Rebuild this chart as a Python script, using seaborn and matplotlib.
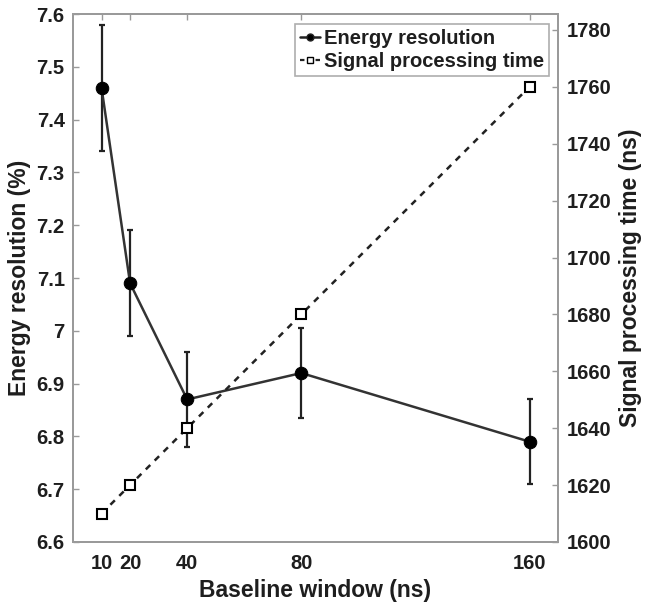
import matplotlib
matplotlib.use("Agg")
import matplotlib.pyplot as plt
from matplotlib.lines import Line2D
import seaborn as sns
import pandas as pd

# Baseline window lengths (ns)
window_ns = [10, 20, 40, 80, 160]
# Energy resolution (%) and its uncertainty
energy_res = [7.46, 7.09, 6.87, 6.92, 6.79]
energy_err = [0.12, 0.10, 0.09, 0.085, 0.08]
# Signal processing time (ns)
proc_time = [1610, 1620, 1640, 1680, 1760]

xticks = [10, 20, 40, 80, 160]
left_ticks = [6.6, 6.7, 6.8, 6.9, 7.0, 7.1, 7.2, 7.3, 7.4, 7.5, 7.6]
left_ticklabels = ["6.6", "6.7", "6.8", "6.9", "7", "7.1", "7.2", "7.3", "7.4", "7.5", "7.6"]
right_ticks = list(range(1600, 1781, 20))

df = pd.DataFrame({"window": window_ns, "res": energy_res, "err": energy_err, "time": proc_time})

sns.set_style("white")
plt.rcParams["font.family"] = ["Liberation Sans", "DejaVu Sans"]
plt.rcParams["font.weight"] = "bold"

FS = 14.5
TXT = "#1e1e1e"
SPINE = "#9a9a9a"

fig = plt.figure(figsize=(6.48, 6.12), dpi=100)
ax = fig.add_axes([0.1127, 0.1144, 0.7485, 0.8627])
ax2 = ax.twinx()

# Energy resolution with error bars
ax.errorbar(df["window"], df["res"], yerr=df["err"], fmt="none", ecolor="#222222",
            elinewidth=1.6, capsize=2.5, capthick=1.6, zorder=3)
sns.lineplot(data=df, x="window", y="res", ax=ax, color="#333333", linewidth=1.8,
             marker="o", markersize=9, markerfacecolor="black", markeredgecolor="black",
             zorder=4, legend=False)

# Signal processing time
sns.lineplot(data=df, x="window", y="time", ax=ax2, color="#222222", linewidth=1.8,
             linestyle=(0, (2.5, 2.5)), marker="s", markersize=7,
             markerfacecolor="white", markeredgecolor="black", markeredgewidth=1.5,
             legend=False)

ax.set_xlim(0, 170)
ax.set_ylim(6.6, 7.6)
ax2.set_ylim(1600, 1785.6)
ax.set_xticks(xticks)
ax.set_xticklabels([str(v) for v in xticks])
ax.set_yticks(left_ticks)
ax.set_yticklabels(left_ticklabels)
ax2.set_yticks(right_ticks)
ax2.set_yticklabels([str(v) for v in right_ticks])

ax.set_xlabel("Baseline window (ns)", fontsize=16.5, fontweight="bold", color=TXT, labelpad=4)
ax.set_ylabel("Energy resolution (%)", fontsize=16.5, fontweight="bold", color=TXT, labelpad=4)
ax2.set_ylabel("Signal processing time (ns)", fontsize=16.5, fontweight="bold", color=TXT, labelpad=6)

for a in (ax, ax2):
    for s in a.spines.values():
        s.set_color(SPINE)
        s.set_linewidth(1.3)
    a.tick_params(direction="in", length=4, width=1, color=SPINE, labelsize=FS,
                  labelcolor=TXT)
ax.tick_params(axis="x", top=True, pad=9)
ax.tick_params(axis="y", right=False, pad=6)
ax2.tick_params(axis="y", pad=6)

handles = [
    Line2D([0], [0], color="#222222", linewidth=1.8, marker="o", markersize=5,
           markerfacecolor="black"),
    Line2D([0], [0], color="#222222", linewidth=1.6, linestyle=(0, (2, 1.5)), marker="s",
           markersize=5, markerfacecolor="white", markeredgecolor="black"),
]
leg = ax2.legend(handles, ["Energy resolution", "Signal processing time"],
                 loc="upper right", bbox_to_anchor=(0.99, 0.988),
                 prop={"weight": "bold", "size": FS}, handlelength=1.0,
                 handletextpad=0.2, borderpad=0.25, labelspacing=0.2,
                 frameon=True, fancybox=False, borderaxespad=0.2)
leg.get_frame().set_edgecolor(SPINE)
leg.get_frame().set_linewidth(1.2)
for t in leg.get_texts():
    t.set_color(TXT)

fig.canvas.draw()
for lab in ax.get_xticklabels() + ax.get_yticklabels() + ax2.get_yticklabels():
    lab.set_fontweight("bold")

fig.savefig("out.png", dpi=100)
